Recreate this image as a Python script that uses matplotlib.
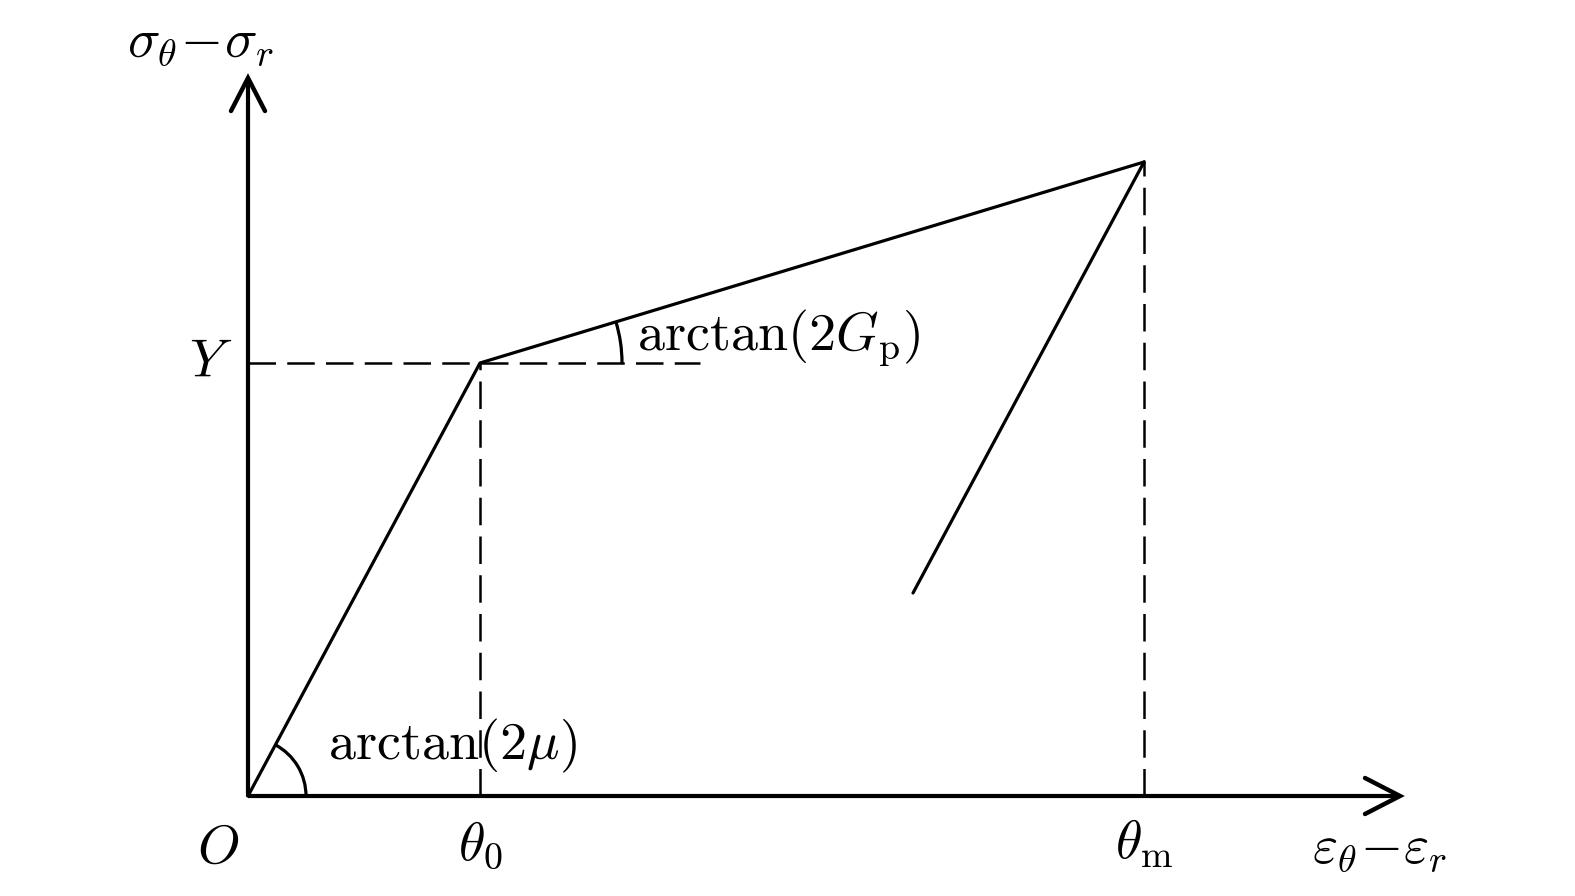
import matplotlib.pyplot as plt
from matplotlib.patches import Arc
import numpy as np

plt.rcParams['mathtext.fontset'] = 'cm'

# key points of the stress-strain path (units: arbitrary, origin at O)
strain_pts = [0, 232, 896]       # O, theta_0, theta_m
stress_pts = [0, 433, 634]       # 0, Y, peak
unload_x = [896, 665]            # unloading branch
unload_y = [634, 203]
x_end = 1152                     # arrow tips of axes
y_end = 718
yield_dash_end = 452

fig = plt.figure(figsize=(15.75, 8.96), dpi=100)
ax = fig.add_axes([0, 0, 1, 1])
ax.set_xlim(-248, 1575 - 248)
ax.set_ylim(-100, 796)
ax.axis('off')

# axes with open arrow heads
ax.plot([0, x_end], [0, 0], color='black', lw=3.0, solid_capstyle='butt')
ax.plot([0, 0], [0, y_end], color='black', lw=3.0, solid_capstyle='butt')
ax.plot([x_end - 35, x_end, x_end - 35], [18, 0, -18], color='black', lw=3.2,
        solid_joinstyle='miter', solid_capstyle='round')
ax.plot([-17, 0, 17], [y_end - 33, y_end, y_end - 33], color='black', lw=3.2,
        solid_joinstyle='miter', solid_capstyle='round')

# loading path and unloading
ax.plot(strain_pts, stress_pts, color='black', lw=2.3)
ax.plot(unload_x, unload_y, color='black', lw=2.3, solid_capstyle='round')

# dashed guides
dash = dict(color='black', lw=1.8, dashes=(11, 4.5))
ax.plot([0, yield_dash_end], [stress_pts[1], stress_pts[1]], **dash)
ax.plot([strain_pts[1], strain_pts[1]], [0, stress_pts[1]], **dash)
ax.plot([strain_pts[2], strain_pts[2]], [0, stress_pts[2]], **dash)

# angle arcs
a1 = np.degrees(np.arctan2(stress_pts[1], strain_pts[1]))
a2 = np.degrees(np.arctan2(stress_pts[2] - stress_pts[1], strain_pts[2] - strain_pts[1]))
ax.add_patch(Arc((0, 0), 116, 116, theta1=0, theta2=a1, color='black', lw=2.3))
ax.add_patch(Arc((strain_pts[1], stress_pts[1]), 284, 284, theta1=0, theta2=a2,
                 color='black', lw=2.3))

fs = 39
ax.text(80, 50, r'$\mathrm{arctan}(2\mu)$', fontsize=fs, ha='left', va='center')
ax.text(389, 458, r'$\mathrm{arctan}(2G_{\mathrm{p}})$', fontsize=fs, ha='left', va='center')
ax.text(-37, 434, r'$Y$', fontsize=fs, ha='center', va='center')
ax.text(-30, -52, r'$O$', fontsize=fs, ha='center', va='center')
ax.text(strain_pts[1], -48, r'$\theta_0$', fontsize=fs, ha='center', va='center')
ax.text(strain_pts[2], -48, r'$\theta_{\mathrm{m}}$', fontsize=fs, ha='center', va='center')
ax.text(1132, -52, r'$\varepsilon_{\theta}\!-\!\varepsilon_r$', fontsize=fs, ha='center', va='center')
ax.text(-48, 754, r'$\sigma_{\theta}\!-\!\sigma_r$', fontsize=fs, ha='center', va='center')

fig.savefig('out.png', dpi=100)
